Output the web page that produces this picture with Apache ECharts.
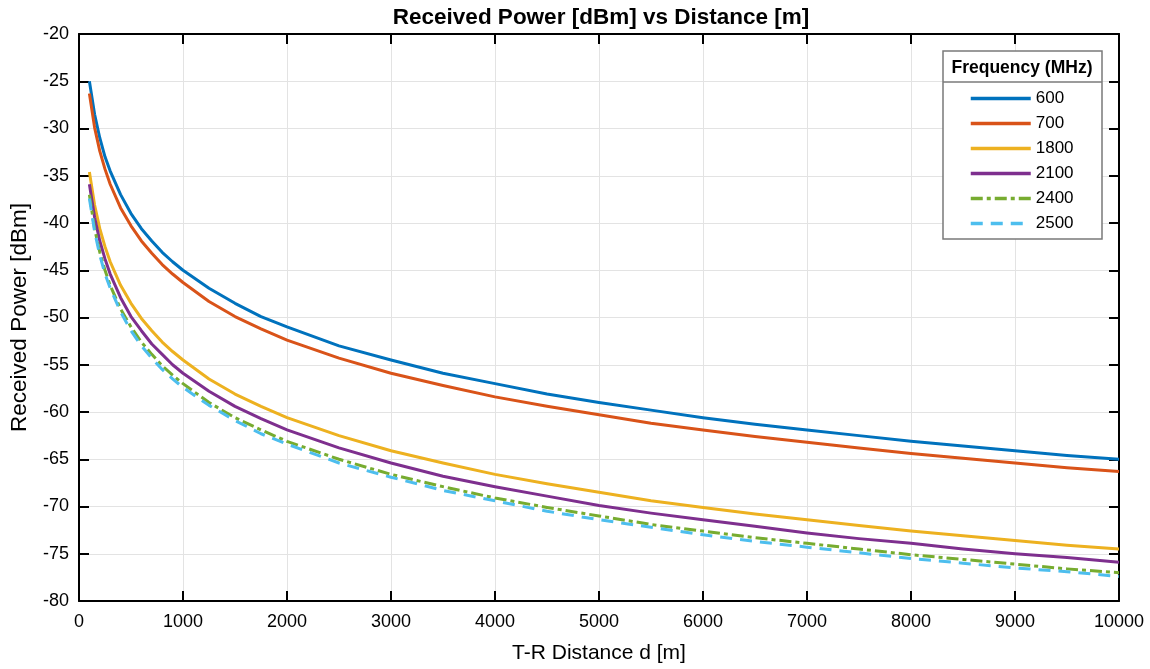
<!DOCTYPE html>
<html>
<head>
<meta charset="utf-8">
<script src="https://cdn.jsdelivr.net/npm/echarts@6/dist/echarts.min.js"></script>
<style>
  html, body { margin: 0; padding: 0; background: #fff; }
  #main { width: 1150px; height: 669px; }
</style>
</head>
<body>
<div id="main"></div>
<script>
// distances (m)
var distance = [100, 150, 200, 250, 300, 400, 500, 600, 700, 800, 900, 1000, 1250, 1500, 1750, 2000,
    2500, 3000, 3500, 4000, 4500, 5000, 5500, 6000, 6500, 7000, 7500, 8000, 8500, 9000, 9500, 10000];

var freqNames = ['600', '700', '1800', '2100', '2400', '2500'];

// received power (dBm)
var p600 = [-25.0, -28.5, -31.0, -33.0, -34.5, -37.0, -39.0, -40.6, -41.9, -43.1, -44.1, -45.0, -46.9, -48.5, -49.9, -51.0,
    -53.0, -54.5, -55.9, -57.0, -58.1, -59.0, -59.8, -60.6, -61.3, -61.9, -62.5, -63.1, -63.6, -64.1, -64.6, -65.0];
var p700 = [-26.3, -29.9, -32.4, -34.3, -35.9, -38.4, -40.3, -41.9, -43.2, -44.4, -45.4, -46.3, -48.3, -49.9, -51.2, -52.4,
    -54.3, -55.9, -57.2, -58.4, -59.4, -60.3, -61.2, -61.9, -62.6, -63.2, -63.8, -64.4, -64.9, -65.4, -65.9, -66.3];
var p1800 = [-34.6, -38.1, -40.6, -42.5, -44.1, -46.6, -48.5, -50.1, -51.4, -52.6, -53.6, -54.5, -56.5, -58.1, -59.4, -60.6,
    -62.5, -64.1, -65.4, -66.6, -67.6, -68.5, -69.4, -70.1, -70.8, -71.4, -72.0, -72.6, -73.1, -73.6, -74.1, -74.5];
var p2100 = [-35.9, -39.4, -41.9, -43.8, -45.4, -47.9, -49.9, -51.4, -52.8, -53.9, -55.0, -55.9, -57.8, -59.4, -60.7, -61.9,
    -63.8, -65.4, -66.8, -67.9, -68.9, -69.9, -70.7, -71.4, -72.1, -72.8, -73.4, -73.9, -74.5, -75.0, -75.4, -75.9];
var p2400 = [-37.0, -40.6, -43.1, -45.0, -46.6, -49.1, -51.0, -52.6, -53.9, -55.1, -56.1, -57.0, -59.0, -60.6, -61.9, -63.1,
    -65.0, -66.6, -67.9, -69.1, -70.1, -71.0, -71.9, -72.6, -73.3, -73.9, -74.5, -75.1, -75.6, -76.1, -76.6, -77.0];
var p2500 = [-37.4, -40.9, -43.4, -45.4, -46.9, -49.4, -51.4, -53.0, -54.3, -55.5, -56.5, -57.4, -59.3, -60.9, -62.3, -63.4,
    -65.4, -66.9, -68.3, -69.4, -70.5, -71.4, -72.2, -73.0, -73.7, -74.3, -74.9, -75.5, -76.0, -76.5, -76.9, -77.4];

var powerLists = [p600, p700, p1800, p2100, p2400, p2500];
var colors = ['#0072BD', '#D95319', '#EDB120', '#7E2F8E', '#77AC30', '#4DBEEE'];
var dashes = ['solid', 'solid', 'solid', 'solid', [12, 4, 4, 4], [12, 8]];

var font = 'Liberation Sans, Arial, sans-serif';

function pairs(ys) {
    var out = [];
    for (var i = 0; i < distance.length; i++) {
        out.push([distance[i], ys[i]]);
    }
    return out;
}

var seriesList = [];
for (var k = 0; k < freqNames.length; k++) {
    seriesList.push({
        name: freqNames[k],
        type: 'line',
        data: pairs(powerLists[k]),
        symbol: 'none',
        smooth: false,
        xAxisIndex: 0,
        yAxisIndex: 0,
        lineStyle: { color: colors[k], width: 3, type: dashes[k], join: 'round' },
        itemStyle: { color: colors[k] },
        z: 2 + k
    });
}

function xAx(pos, showLabel) {
    return {
        type: 'value', position: pos, min: 0, max: 10000, interval: 1000,
        name: showLabel ? 'T-R Distance d [m]' : '',
        nameLocation: 'middle', nameGap: 42,
        nameTextStyle: { color: '#000', fontSize: 21, fontFamily: font },
        axisLine: { show: true, onZero: false, lineStyle: { color: '#000', width: 2 } },
        axisTick: { show: true, inside: true, length: 10, lineStyle: { color: '#000', width: 2 } },
        axisLabel: {
            show: showLabel, color: '#000', fontSize: 18, fontFamily: font, margin: 12,
            formatter: function (v) { return String(v); }
        },
        splitLine: { show: showLabel, lineStyle: { color: '#e3e3e3', width: 1 } }
    };
}

function yAx(pos, showLabel) {
    return {
        type: 'value', position: pos, min: -80, max: -20, interval: 5,
        name: showLabel ? 'Received Power [dBm]' : '',
        nameLocation: 'middle', nameGap: 48,
        nameTextStyle: { color: '#000', fontSize: 22.5, fontFamily: font },
        axisLine: { show: true, onZero: false, lineStyle: { color: '#000', width: 2 } },
        axisTick: { show: true, inside: true, length: 10, lineStyle: { color: '#000', width: 2 } },
        axisLabel: { show: showLabel, color: '#000', fontSize: 18, fontFamily: font, margin: 10 },
        splitLine: { show: showLabel, lineStyle: { color: '#e3e3e3', width: 1 } }
    };
}

var option = {
    backgroundColor: '#FFFFFF',
    animation: false,
    title: {
        text: 'Received Power [dBm] vs Distance [m]',
        left: 596, top: 1, textAlign: 'center',
        textStyle: { color: '#000', fontSize: 22.5, fontWeight: 'bold', fontFamily: font }
    },
    grid: { left: 77, right: 31, top: 34, bottom: 67 },
    xAxis: [xAx('bottom', true), xAx('top', false)],
    yAxis: [yAx('left', true), yAx('right', false)],
    legend: {
        orient: 'vertical',
        left: 964, top: 85,
        itemWidth: 60, itemHeight: 14, itemGap: 8,
        z: 10,
        data: freqNames,
        itemStyle: { opacity: 0 },
        lineStyle: { width: 3.5 },
        textStyle: { color: '#000', fontSize: 17, fontFamily: font, lineHeight: 14 }
    },
    graphic: [
        {
            type: 'rect', z: 8,
            shape: { x: 943, y: 51, width: 159, height: 188 },
            style: { fill: '#fff', stroke: '#7a7a7a', lineWidth: 1.5 }
        },
        {
            type: 'line', z: 9,
            shape: { x1: 943, y1: 82, x2: 1102, y2: 82 },
            style: { stroke: '#7a7a7a', lineWidth: 1.5 }
        },
        {
            type: 'text', z: 9, x: 1022, y: 68,
            style: {
                text: 'Frequency (MHz)', fill: '#000', fontSize: 17.5, fontWeight: 'bold',
                fontFamily: font, align: 'center', verticalAlign: 'middle'
            }
        }
    ],
    series: seriesList
};

var myChart = echarts.init(document.getElementById('main'));
myChart.setOption(option);
window.addEventListener('resize', function () {
    myChart.resize();
});
</script>
</body>
</html>
